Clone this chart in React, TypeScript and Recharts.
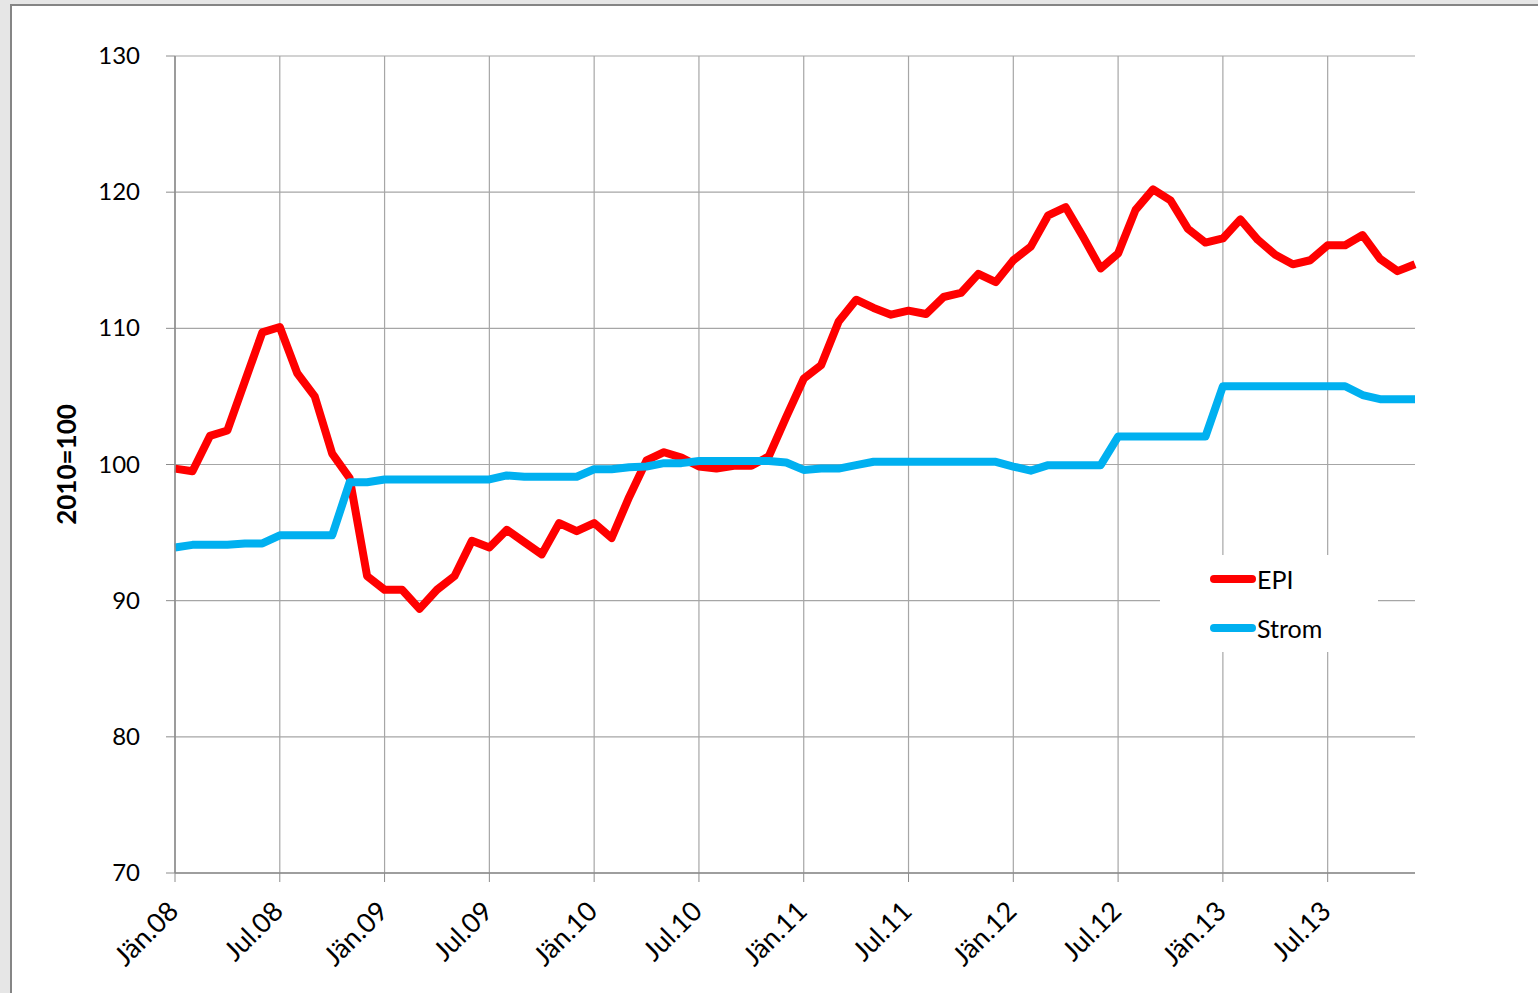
import React from 'react';
import { LineChart, Line, XAxis, YAxis, CartesianGrid, Legend, ReferenceLine } from 'recharts';

const monthNames = ['Jän', 'Feb', 'Mär', 'Apr', 'Mai', 'Jun', 'Jul', 'Aug', 'Sep', 'Okt', 'Nov', 'Dez'];
const years = ['08', '09', '10', '11', '12', '13'];
const categories: string[] = years.flatMap((y) => monthNames.map((m) => `${m}.${y}`));

const epi = [
  99.7, 99.5, 102.1, 102.5, 106.1, 109.7, 110.1, 106.7, 105.0, 100.8,
  99.0, 91.8, 90.8, 90.8, 89.4, 90.8, 91.8, 94.4, 93.9, 95.2,
  94.3, 93.4, 95.7, 95.1, 95.7, 94.6, 97.6, 100.3, 100.9, 100.5,
  99.85, 99.7, 99.9, 99.9, 100.6, 103.5, 106.3, 107.3, 110.5, 112.1,
  111.5, 111.0, 111.3, 111.05, 112.3, 112.6, 114.0, 113.4, 115.0, 116.0,
  118.3, 118.9, 116.7, 114.4, 115.5, 118.7, 120.2, 119.4, 117.3, 116.3,
  116.6, 118.0, 116.5, 115.4, 114.7, 115.0, 116.1, 116.1, 116.85, 115.1,
  114.2, 114.7,
];

const strom = [
  93.9, 94.1, 94.1, 94.1, 94.2, 94.2, 94.8, 94.8, 94.8, 94.8,
  98.7, 98.7, 98.9, 98.9, 98.9, 98.9, 98.9, 98.9, 98.9, 99.2,
  99.1, 99.1, 99.1, 99.1, 99.65, 99.65, 99.8, 99.85, 100.1, 100.1,
  100.25, 100.25, 100.25, 100.25, 100.25, 100.15, 99.6, 99.7, 99.7, 99.95,
  100.2, 100.2, 100.2, 100.2, 100.2, 100.2, 100.2, 100.2, 99.85, 99.55,
  99.95, 99.95, 99.95, 99.95, 102.05, 102.05, 102.05, 102.05, 102.05, 102.05,
  105.75, 105.75, 105.75, 105.75, 105.75, 105.75, 105.75, 105.75, 105.1, 104.8,
  104.8, 104.8,
];

const xTicks = [0, 6, 12, 18, 24, 30, 36, 42, 48, 54, 60, 66];
const xMax = 71;
const yTicks = [70, 80, 90, 100, 110, 120, 130];
const yLabel = '2010=100';
const seriesNames = { epi: 'EPI', strom: 'Strom' };

const data = categories.map((label, i) => ({ i, label, epi: epi[i], strom: strom[i] }));

const FONT = 'Lato, "Open Sans", sans-serif';
const GRID = '#a6a6a6';
const AXIS = '#8c8c8c';

const XTick = (props: any) => {
  const { x, y, payload } = props;
  return (
    <g transform={`translate(${x + 5},${y + 29})`}>
      <text textAnchor="end" transform="rotate(-45)" fontSize={27} fontFamily={FONT} fill="#000">
        {categories[payload.value]}
      </text>
    </g>
  );
};

const YTick = (props: any) => {
  const { x, y, payload } = props;
  return (
    <text x={x} y={y} dy={8} textAnchor="end" fontSize={24} fontFamily={FONT} fill="#000">
      {payload.value}
    </text>
  );
};

const YLabel = (props: any) => {
  const vb = props.viewBox || { x: 95, y: 56, width: 80, height: 817 };
  const cx = 66;
  const cy = vb.y + vb.height / 2;
  return (
    <text
      x={cx}
      y={cy}
      transform={`rotate(-90, ${cx}, ${cy})`}
      textAnchor="middle"
      dominantBaseline="central"
      fontSize={26}
      fontWeight="bold"
      fontFamily={FONT}
      fill="#000"
    >
      {yLabel}
    </text>
  );
};

const LegendContent = (props: any) => {
  const payload = props.payload || [];
  return (
    <div style={{ position: 'relative', width: 218, height: 97, background: '#fff' }}>
      {payload.map((p: any, idx: number) => (
        <div key={idx} style={{ position: 'absolute', left: 0, top: 24 + idx * 49 - 14, height: 28, width: 218 }}>
          <div
            style={{
              position: 'absolute',
              left: 50,
              top: 10,
              width: 46,
              height: 8,
              borderRadius: 4,
              background: p.color,
            }}
          />
          <div
            style={{
              position: 'absolute',
              left: 97,
              top: -1,
              fontSize: 25,
              fontFamily: FONT,
              color: '#000',
              lineHeight: '30px',
            }}
          >
            {p.value}
          </div>
        </div>
      ))}
    </div>
  );
};

export default function App() {
  return (
    <div style={{ position: 'absolute', left: 0, top: 0, width: 1538, height: 993, background: '#e6e6e6', overflow: 'hidden' }}>
      <div
        style={{
          position: 'absolute',
          left: 10,
          top: 4,
          width: 1540,
          height: 1000,
          background: '#fff',
          borderLeft: '2px solid #858585',
          borderTop: '2px solid #858585',
        }}
      />
      <div style={{ position: 'absolute', left: 0, top: 0 }}>
        <LineChart
          width={1538}
          height={993}
          data={data}
          margin={{ top: 56, right: 123, bottom: 20, left: 95 }}
        >
          <CartesianGrid stroke={GRID} strokeWidth={1.2} vertical={false} />
          {xTicks.map((t) => (
            <ReferenceLine key={t} x={t} stroke={GRID} strokeWidth={1.2} />
          ))}
          <XAxis
            dataKey="i"
            type="number"
            domain={[0, xMax]}
            ticks={xTicks}
            interval={0}
            height={100}
            tickSize={9}
            tickLine={{ stroke: AXIS }}
            axisLine={{ stroke: AXIS, strokeWidth: 1.5 }}
            tick={<XTick />}
          />
          <YAxis
            type="number"
            domain={[70, 130]}
            ticks={yTicks}
            interval={0}
            width={80}
            tickSize={9}
            tickMargin={26}
            tickLine={{ stroke: AXIS }}
            axisLine={{ stroke: AXIS, strokeWidth: 1.5 }}
            tick={<YTick />}
            label={<YLabel />}
          />
          <Legend
            layout="vertical"
            align="center"
            verticalAlign="middle"
            content={<LegendContent />}
            wrapperStyle={{ position: 'absolute', left: 1160, top: 555, width: 218, height: 97 }}
          />
          <Line
            type="linear"
            dataKey="epi"
            name={seriesNames.epi}
            stroke="#ff0000"
            strokeWidth={8}
            dot={false}
            strokeLinejoin="round"
            isAnimationActive={false}
          />
          <Line
            type="linear"
            dataKey="strom"
            name={seriesNames.strom}
            stroke="#00b0f0"
            strokeWidth={8}
            dot={false}
            strokeLinejoin="round"
            isAnimationActive={false}
          />
        </LineChart>
      </div>
    </div>
  );
}
